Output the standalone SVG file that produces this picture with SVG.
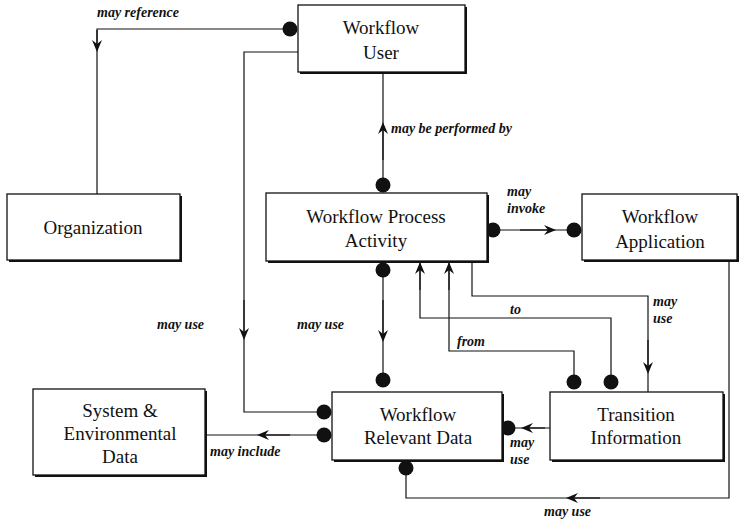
<svg xmlns="http://www.w3.org/2000/svg" width="746" height="521" viewBox="0 0 746 521">
<style>
.box{fill:#fff;stroke:#111;stroke-width:1.3}
.sh{fill:#111}
.t{font-family:"Liberation Serif","Times New Roman",serif;font-size:19px;fill:#111;text-anchor:middle}
.l{font-family:"Liberation Serif","Times New Roman",serif;font-size:14px;font-style:italic;font-weight:bold;fill:#111}
.c{fill:none;stroke:#111;stroke-width:1.2}
.d{fill:#111}
</style>
<defs>
<marker id="a" viewBox="0 0 12 10" refX="6" refY="5" markerWidth="12" markerHeight="10" markerUnits="userSpaceOnUse" orient="auto">
<path d="M0,0 L12,5 L0,10 L4,5 Z" fill="#111"/>
</marker>
</defs>
<rect width="746" height="521" fill="#fff"/>
<g id="connectors">
<path class="c" d="M290,29 H97 V194"/>
<path class="c" d="M97,30 V46" marker-end="url(#a)"/>
<circle class="d" cx="290" cy="29" r="7.5"/>
<path class="c" d="M298,52 H244 V412 H324"/>
<path class="c" d="M244,300 V334" marker-end="url(#a)"/>
<circle class="d" cx="324" cy="412" r="7.5"/>
<path class="c" d="M383,72 V185"/>
<path class="c" d="M383,160 V128" marker-end="url(#a)"/>
<circle class="d" cx="383" cy="185" r="7.5"/>
<path class="c" d="M493,230 H574"/>
<path class="c" d="M520,230 H550" marker-end="url(#a)"/>
<circle class="d" cx="493" cy="230" r="7.5"/>
<circle class="d" cx="574" cy="230" r="7.5"/>
<path class="c" d="M383,270 V380"/>
<path class="c" d="M383,300 V336" marker-end="url(#a)"/>
<circle class="d" cx="383" cy="270" r="7.5"/>
<circle class="d" cx="383" cy="380" r="7.5"/>
<path class="c" d="M472,261 V296 H648 V392"/>
<path class="c" d="M648,340 V368" marker-end="url(#a)"/>
<path class="c" d="M611,382 V318 H420 V262"/>
<path class="c" d="M420,290 V268" marker-end="url(#a)"/>
<circle class="d" cx="611" cy="382" r="7.5"/>
<path class="c" d="M574,382 V351 H449 V262"/>
<path class="c" d="M449,290 V268" marker-end="url(#a)"/>
<circle class="d" cx="574" cy="382" r="7.5"/>
<path class="c" d="M550,428 H508"/>
<path class="c" d="M545,428 H527" marker-end="url(#a)"/>
<circle class="d" cx="508" cy="428" r="7.5"/>
<path class="c" d="M324,435 H207"/>
<path class="c" d="M290,435 H263" marker-end="url(#a)"/>
<circle class="d" cx="324" cy="435" r="7.5"/>
<path class="c" d="M729,261 V498 H406 V468"/>
<path class="c" d="M600,498 H572" marker-end="url(#a)"/>
<circle class="d" cx="406" cy="468" r="7.5"/>
</g>
<g id="labels">
<text class="l" x="97" y="17">may reference</text>
<text class="l" x="391" y="133">may be performed by</text>
<text class="l" x="507" y="196">may</text>
<text class="l" x="507" y="213">invoke</text>
<text class="l" x="157" y="329">may use</text>
<text class="l" x="297" y="329">may use</text>
<text class="l" x="653" y="306">may</text>
<text class="l" x="653" y="323">use</text>
<text class="l" x="510" y="314">to</text>
<text class="l" x="457" y="346">from</text>
<text class="l" x="510" y="447">may</text>
<text class="l" x="510" y="464">use</text>
<text class="l" x="210" y="456">may include</text>
<text class="l" x="544" y="516">may use</text>
</g>
<g id="n-user">
<rect class="sh" x="300" y="7" width="167" height="67"/>
<rect class="box" x="298" y="5" width="167" height="67"/>
<text class="t" x="381" y="34">Workflow</text>
<text class="t" x="381" y="59">User</text>
</g>
<g id="n-org">
<rect class="sh" x="9" y="196" width="173" height="66"/>
<rect class="box" x="7" y="194" width="173" height="66"/>
<text class="t" x="93" y="234">Organization</text>
</g>
<g id="n-wpa">
<rect class="sh" x="268" y="195" width="221" height="68"/>
<rect class="box" x="266" y="193" width="221" height="68"/>
<text class="t" x="376" y="223">Workflow Process</text>
<text class="t" x="376" y="247">Activity</text>
</g>
<g id="n-wa">
<rect class="sh" x="584" y="196" width="155" height="66"/>
<rect class="box" x="582" y="194" width="155" height="66"/>
<text class="t" x="660" y="223">Workflow</text>
<text class="t" x="660" y="248">Application</text>
</g>
<g id="n-sys">
<rect class="sh" x="35" y="391" width="172" height="86"/>
<rect class="box" x="33" y="389" width="172" height="86"/>
<text class="t" x="120" y="417">System &amp;</text>
<text class="t" x="120" y="440">Environmental</text>
<text class="t" x="120" y="463">Data</text>
</g>
<g id="n-wrd">
<rect class="sh" x="334" y="394" width="170" height="68"/>
<rect class="box" x="332" y="392" width="170" height="68"/>
<text class="t" x="418" y="421">Workflow</text>
<text class="t" x="418" y="444">Relevant Data</text>
</g>
<g id="n-ti">
<rect class="sh" x="552" y="394" width="173" height="68"/>
<rect class="box" x="550" y="392" width="173" height="68"/>
<text class="t" x="636" y="421">Transition</text>
<text class="t" x="636" y="444">Information</text>
</g>
</svg>
